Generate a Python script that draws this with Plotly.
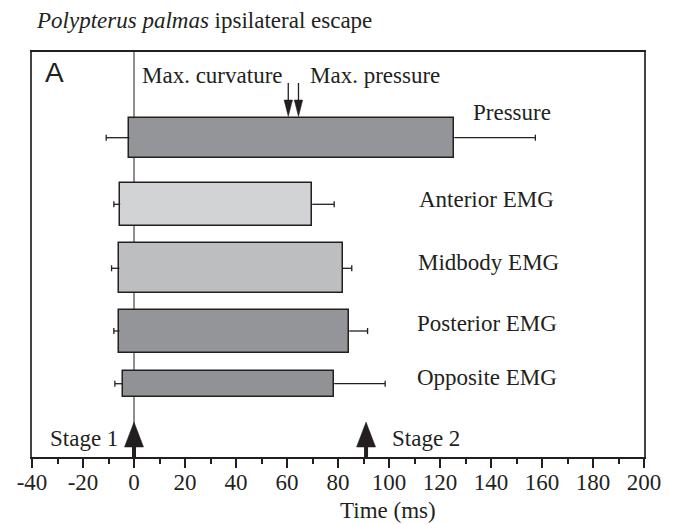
import plotly.graph_objects as go

# ---------------- data ----------------
rows = ["Pressure", "Anterior EMG", "Midbody EMG", "Posterior EMG", "Opposite EMG"]
onset = [-1.8, -5.4, -5.7, -5.7, -4.4]          # ms
offset = [125.6, 69.9, 81.8, 84.4, 78.5]        # ms
onset_err = [9.1, 2.5, 3.1, 2.2, 3.1]
offset_err = [31.8, 8.6, 3.6, 7.2, 20.0]
max_events = ["Max. curvature", "Max. pressure"]
max_times = [60.5, 64.5]
stage_labels = ["Stage 1", "Stage 2"]
stage_times = [0, 91]
x_ticks = list(range(-40, 201, 20))

# ---------------- layout constants (positions / styles) ----------------
W, H = 681, 524
L, R, T, B = 32, 37, 52, 67
PW, PH = W - L - R, H - T - B
XMIN, XMAX = -40, 200
PXU = PW / (XMAX - XMIN)        # px per ms
ROW_Y = [85.7, 152.3, 216.3, 279.0, 331.7]   # px from top of plot area
ROW_H = [40, 43, 50, 43, 26]
COLORS = ["#939598", "#d1d3d4", "#bcbec0", "#939598", "#909295"]
INK = "#231f20"
SERIF = "Liberation Serif, Times New Roman, serif"
CAP = 3.0
FS = 23


def pxx(xp):
    return (xp - L) / PW


def pxy(yp):
    return 1 - (yp - T) / PH


fig = go.Figure()

fig.add_trace(go.Bar(
    y=ROW_Y, x=[b - a for a, b in zip(onset, offset)], base=onset,
    orientation="h", width=ROW_H,
    marker=dict(color=COLORS, line=dict(color=INK, width=1.5)),
    showlegend=False, hoverinfo="skip",
))

# whiskers: outward from onset (left) and offset (right), with end caps
wx, wy = [], []
for a, b, ea, eb, y in zip(onset, offset, onset_err, offset_err, ROW_Y):
    wx += [a - ea, a, None, a - ea, a - ea, None]
    wy += [y, y, None, y - CAP, y + CAP, None]
    wx += [b, b + eb, None, b + eb, b + eb, None]
    wy += [y, y, None, y - CAP, y + CAP, None]
fig.add_trace(go.Scatter(x=wx, y=wy, mode="lines", line=dict(color=INK, width=1.3),
                         showlegend=False, hoverinfo="skip"))

shapes = []
# zero line
shapes.append(dict(type="line", xref="x", yref="y", x0=0, x1=0, y0=0, y1=PH,
                   line=dict(color=INK, width=1), layer="below"))

# max arrows (pointing down onto the pressure bar)
hw = 4.2 / PXU
for t in max_times:
    shapes.append(dict(type="line", xref="x", yref="y", x0=t, x1=t, y0=31, y1=50,
                       line=dict(color=INK, width=1.3)))
    shapes.append(dict(type="path", xref="x", yref="y",
                       path=f"M {t - hw},48 L {t + hw},48 L {t},64.5 Z",
                       fillcolor=INK, line=dict(color=INK, width=0.5)))

# stage arrows (pointing up from the axis)
sw = 9.5 / PXU
for t in stage_times:
    shapes.append(dict(type="path", xref="x", yref="y",
                       path=f"M {t - sw},395 L {t + sw},395 L {t},370 Z",
                       fillcolor=INK, line=dict(color=INK, width=0.5)))
    shapes.append(dict(type="line", xref="x", yref="y", x0=t, x1=t, y0=394, y1=PH,
                       line=dict(color=INK, width=4)))

annotations = []


def txt(text, xp, yp, anchor="left", size=FS, family=SERIF):
    annotations.append(dict(text=text, xref="paper", yref="paper", x=pxx(xp), y=pxy(yp),
                            xanchor=anchor, yanchor="middle", showarrow=False,
                            font=dict(family=family, size=size, color=INK)))


txt("<i>Polypterus palmas</i> ipsilateral escape", 34, 21, size=23)
txt("A", 43, 73, size=28, family="Liberation Sans, Arial, sans-serif")
txt(max_events[0], 140, 75)
txt(max_events[1], 308, 75)
label_pos = [(471, 113), (417, 200), (416, 262), (415, 323), (415, 377)]
for name, (xp, yp) in zip(rows, label_pos):
    txt(name, xp, yp)
txt(stage_labels[0], 120, 438, anchor="right")
txt(stage_labels[1], 390, 438)
txt("Time (ms)", L + PW / 2, 510)

fig.update_layout(
    width=W, height=H, margin=dict(l=L, r=R, t=T, b=B, pad=0),
    paper_bgcolor="white", plot_bgcolor="white",
    shapes=shapes, annotations=annotations, bargap=0,
    xaxis=dict(range=[XMIN, XMAX], tickvals=x_ticks, ticktext=[str(v) for v in x_ticks],
               ticks="outside", ticklen=9, tickwidth=1.5, tickcolor=INK,
               ticklabelstandoff=-5,
               showline=True, linecolor=INK, linewidth=1.5, mirror=True,
               showgrid=False, zeroline=False,
               minor=dict(dtick=10, tick0=0, ticks="outside", ticklen=5, tickwidth=1.5,
                          tickcolor=INK, showgrid=False),
               tickfont=dict(family=SERIF, size=FS, color=INK)),
    yaxis=dict(range=[PH, 0], showticklabels=False, ticks="", showgrid=False,
               zeroline=False, showline=True, linecolor="#444", linewidth=1.5, mirror=True),
)

fig.write_html("out.html")
